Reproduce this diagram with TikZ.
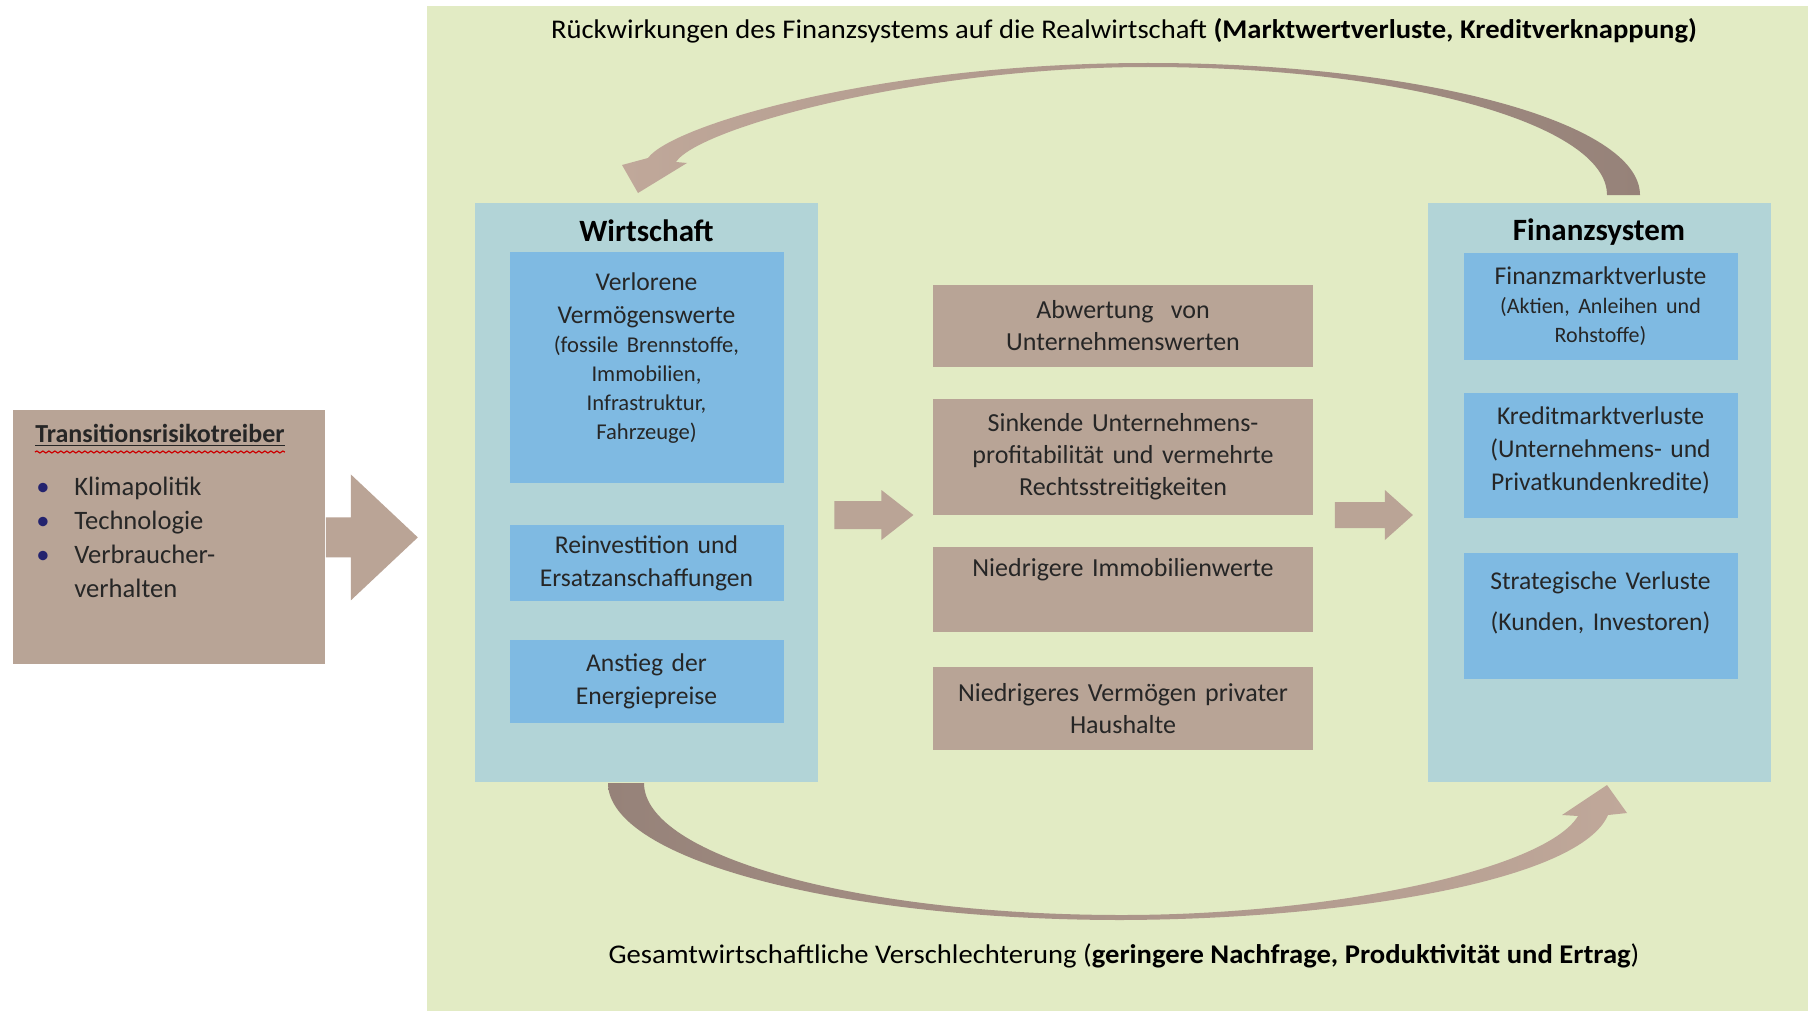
\documentclass[tikz,border=0pt]{standalone}
\usepackage{fontspec}
\usepackage{graphicx}
\setmainfont{Carlito}
\usetikzlibrary{positioning,calc,decorations.pathmorphing}

\definecolor{panelgreen}{RGB}{226,235,196}
\definecolor{outerblue}{RGB}{178,212,215}
\definecolor{innerblue}{RGB}{127,186,226}
\definecolor{boxbrown}{RGB}{184,164,150}
\definecolor{arrowbrown}{RGB}{186,164,150}
\definecolor{arcdark}{RGB}{150,130,121}
\definecolor{arclight}{RGB}{192,168,154}
\definecolor{textdark}{RGB}{38,38,38}
\definecolor{bulletnavy}{RGB}{35,35,110}

% block arrow: start, length, half shaft, half head, head length
\newcommand{\blockarrow}[5]{%
  \fill[arrowbrown] (#1) ++(0,-#3) -- ++({#2-#5},0) -- ++(0,{#3-#4}) -- ++(#5,#4)
    -- ++(-#5,#4) -- ++(0,{#3-#4}) -- ++({#5-#2},0) -- cycle;}

\tikzset{
  panel/.style={fill=outerblue, inner sep=0pt, minimum width=171.5pt, minimum height=289.5pt},
  bluebox/.style={fill=innerblue, text=textdark, align=center, inner sep=0pt,
    text width=137pt, font=\fontsize{12.8}{16.5}\selectfont},
  brownbox/.style={fill=boxbrown, text=textdark, align=center, inner sep=0pt,
    text width=190pt, font=\fontsize{13}{16}\selectfont},
  headtext/.style={font=\fontsize{15.5}{18}\selectfont\bfseries, text=black, inner sep=0pt},
  loopcaption/.style={font=\fontsize{13.5}{16}\selectfont, text=black, inner sep=0pt},
}

\begin{document}
\begin{tikzpicture}[x=0.5pt,y=-0.5pt]
\useasboundingbox (0,0) rectangle (1808,1011);
\fill[white] (0,0) rectangle (1808,1011);
\fill[panelgreen] (427,6) rectangle (1808,1011);

% drivers
\node[fill=boxbrown, inner sep=0pt, minimum width=156pt, minimum height=127pt, anchor=north west] (trans) at (13,410) {};
\node[anchor=base west, inner sep=0pt, text=textdark, font=\fontsize{13}{15}\selectfont\bfseries] (transtitle) at (35,442) {\underline{Transitionsrisikotreiber}};
\draw[red!80!black, line width=0.6pt, decorate, decoration={snake, amplitude=0.5pt, segment length=3pt}]
  ($(transtitle.base west)+(0,10)$) -- ($(transtitle.base east)+(0,10)$);
\node[anchor=base west, inner sep=0pt, text=textdark, font=\fontsize{13.3}{17}\selectfont] (translist) at (36,495)
  {\begin{tabular}[t]{@{}p{19pt}@{}l@{}}
   \textcolor{bulletnavy}{\textbullet} & Klimapolitik\\
   \textcolor{bulletnavy}{\textbullet} & Technologie\\
   \textcolor{bulletnavy}{\textbullet} & Verbraucher-\\
   & verhalten
   \end{tabular}};
\blockarrow{trans.east}{92}{20}{63}{67}

% Wirtschaft
\node[panel] (wirt) at (646.5,492.5) {};
\node[headtext] (wirttitle) at (646.5,231) {Wirtschaft};
\node[bluebox, minimum height=115.5pt] (verloren) at (646.5,367.5)
  {Verlorene\\Vermögenswerte\\{\fontsize{11.3}{14.5}\selectfont (fossile Brennstoffe,\\Immobilien,\\Infrastruktur,\\Fahrzeuge)\par}\vspace{9.5pt}};
\node[bluebox, minimum height=38pt] (reinvest) at (646.5,563) {Reinvestition und\\Ersatzanschaffungen};
\node[bluebox, minimum height=41.5pt] (energie) at (646.5,681.5) {Anstieg der\\Energiepreise};

% Transmission
\coordinate (mid1) at ($(wirt.east)+(16,22.5)$);
\blockarrow{mid1}{79}{14}{25}{32}
\node[brownbox, minimum height=41pt] (abwert) at (1123,326) {Abwertung\ \ von\\Unternehmenswerten};
\node[brownbox, minimum height=58pt] (profit) at (1123,457) {Sinkende Unternehmens-\\profitabilität und vermehrte\\Rechtsstreitigkeiten};
\node[brownbox, minimum height=42.5pt] (immo) at (1123,589.5) {Niedrigere Immobilienwerte\par\vspace{19.5pt}};
\node[brownbox, minimum height=41.5pt] (haushalt) at (1123,708.5) {Niedrigeres Vermögen privater\\Haushalte};
\coordinate (mid2) at ($(wirt.east)+(516.5,22.5)$);
\blockarrow{mid2}{78}{13}{25}{28}

% Finanzsystem
\node[panel] (fin) at (1599,492.5) {};
\node[headtext] (fintitle) at (1599,232) {Finanzsystem};
\node[bluebox, minimum height=53.5pt] (finmarkt) at (1600.5,306.5)
  {Finanzmarktverluste\\{\fontsize{11}{14.5}\selectfont (Aktien, Anleihen und\\Rohstoffe)\par}};
\node[bluebox, minimum height=62.5pt] (kredit) at (1600.5,455.5)
  {Kreditmarktverluste\\(Unternehmens- und\\Privatkundenkredite)\par\vspace{5.5pt}};
\node[bluebox, minimum height=63pt] (strateg) at (1600.5,616)
  {Strategische Verluste\\[4pt](Kunden, Investoren)\par\vspace{13pt}};

% feedback loops
\shade[left color=arclight, right color=arcdark]
  (1640,195) .. controls (1640,122) and (1420,63) .. (1148,63)
  .. controls (880,63) and (672,125) .. (648,158)
  -- (622,165) -- (638,193) -- (687,163) -- (676,162)
  .. controls (698,128) and (920,67) .. (1148,67)
  .. controls (1401,67) and (1607,124) .. (1607,195) -- cycle;
\shade[left color=arcdark, right color=arclight]
  (608,783) .. controls (608,859) and (838,920) .. (1122,920)
  .. controls (1350,919) and (1580,880) .. (1608,815)
  -- (1627,813) -- (1607,785) -- (1562,815) -- (1578,816)
  .. controls (1545,870) and (1330,915) .. (1122,915)
  .. controls (858,915) and (644,856) .. (644,783) -- cycle;

\node[loopcaption] (backtext) at (1124,31) {\scalebox{1.06}[1]{Rückwirkungen des Finanzsystems auf die Realwirtschaft \textbf{(Marktwertverluste, Kreditverknappung)}}};
\node[loopcaption] (downtext) at (1124,956) {\scalebox{1.06}[1]{Gesamtwirtschaftliche Verschlechterung (\textbf{geringere Nachfrage, Produktivität und Ertrag})}};
\end{tikzpicture}
\end{document}
